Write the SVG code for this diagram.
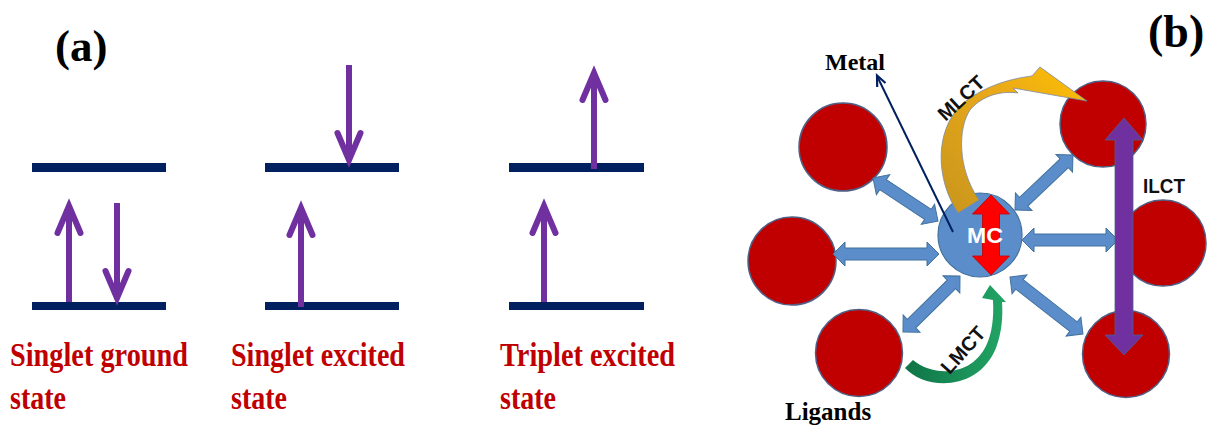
<svg xmlns="http://www.w3.org/2000/svg" width="1208" height="425" viewBox="0 0 1208 425">
<style>
.lvl{fill:#002060}
.spin{stroke:#7030A0;stroke-width:6;fill:none}
.head{stroke:#7030A0;stroke-width:6;fill:none;stroke-linecap:round;stroke-linejoin:miter;stroke-miterlimit:10}
.lab{font-family:"Liberation Serif","Times New Roman",serif;font-weight:bold;font-size:34px;fill:#C00000}
.ttl{font-family:"Liberation Serif","Times New Roman",serif;font-weight:bold;fill:#000}
.lig{fill:#C00000;stroke:#4F5F85;stroke-width:1.5}
.blk{fill:#5B8DCB;stroke:#41719C;stroke-width:1}
.sans{font-family:"Liberation Sans",Arial,sans-serif;font-weight:bold;font-size:20px;fill:#111}
</style>
<defs>
<linearGradient id="gold" x1="0" y1="1" x2="1" y2="0">
<stop offset="0" stop-color="#C8951C"/>
<stop offset="0.6" stop-color="#E9A91A"/>
<stop offset="1" stop-color="#FFC000"/>
</linearGradient>
<linearGradient id="green" x1="0" y1="0" x2="1" y2="0">
<stop offset="0" stop-color="#0F7447"/>
<stop offset="1" stop-color="#22A565"/>
</linearGradient>
</defs>
<rect width="1208" height="425" fill="#fff"/>

<!-- Panel (a) -->
<text class="ttl" x="55" y="61" font-size="45">(a)</text>

<g id="singlet-ground">
<rect class="lvl" x="32" y="163" width="134" height="9"/>
<rect class="lvl" x="32" y="302" width="134" height="8"/>
<line class="spin" x1="69" y1="205" x2="69" y2="302"/>
<polyline class="head" points="57.5,233 69,206 80.5,233"/>
<line class="spin" x1="117" y1="203" x2="117" y2="299"/>
<polyline class="head" points="105.5,271 117,298 128.5,271"/>
<text class="lab" x="10" y="366" textLength="178" lengthAdjust="spacingAndGlyphs">Singlet ground</text>
<text class="lab" x="10" y="409" textLength="56" lengthAdjust="spacingAndGlyphs">state</text>
</g>

<g id="singlet-excited">
<rect class="lvl" x="265" y="163" width="134" height="9"/>
<rect class="lvl" x="265" y="302" width="134" height="8"/>
<line class="spin" x1="349" y1="65" x2="349" y2="161"/>
<polyline class="head" points="337.5,133 349,160 360.5,133"/>
<line class="spin" x1="301" y1="207" x2="301" y2="307"/>
<polyline class="head" points="289.5,235 301,208 312.5,235"/>
<text class="lab" x="231" y="366" textLength="174" lengthAdjust="spacingAndGlyphs">Singlet excited</text>
<text class="lab" x="231" y="409" textLength="56" lengthAdjust="spacingAndGlyphs">state</text>
</g>

<g id="triplet-excited">
<rect class="lvl" x="509" y="163" width="135" height="9"/>
<rect class="lvl" x="509" y="302" width="135" height="8"/>
<line class="spin" x1="594" y1="72" x2="594" y2="169"/>
<polyline class="head" points="582.5,100 594,73 605.5,100"/>
<line class="spin" x1="544" y1="205" x2="544" y2="302"/>
<polyline class="head" points="532.5,233 544,206 555.5,233"/>
<text class="lab" x="500" y="366" textLength="175" lengthAdjust="spacingAndGlyphs">Triplet excited</text>
<text class="lab" x="500" y="409" textLength="56" lengthAdjust="spacingAndGlyphs">state</text>
</g>

<!-- Panel (b) -->
<text class="ttl" x="1148" y="47" font-size="46">(b)</text>

<g id="ligand-ul"><circle class="lig" cx="843" cy="147" r="44"/></g>
<g id="ligand-ur"><circle class="lig" cx="1103" cy="124" r="43"/></g>
<g id="ligand-l"><circle class="lig" cx="792" cy="261" r="44"/></g>
<g id="ligand-r"><circle class="lig" cx="1163" cy="243" r="43"/></g>
<g id="ligand-ll"><circle class="lig" cx="859" cy="353" r="43.5"/></g>
<g id="ligand-lr"><circle class="lig" cx="1126" cy="354" r="43.5"/></g>
<g id="metal-mc"><circle cx="980" cy="235" r="42" fill="#5B8DCB" stroke="#41719C" stroke-width="1.2"/></g>

<g id="connectors">
<polygon class="blk" transform="translate(873,178) rotate(33.5)" points="0,0 12,-12 12,-6 65.9,-6 65.9,-12 77.9,0 65.9,12 65.9,6 12,6 12,12"/>
<polygon class="blk" transform="translate(833,254)" points="0,0 12,-12 12,-6 94,-6 94,-12 106,0 94,12 94,6 12,6 12,12"/>
<polygon class="blk" transform="translate(903,332) rotate(-44.5)" points="0,0 12,-12 12,-6 67.9,-6 67.9,-12 79.9,0 67.9,12 67.9,6 12,6 12,12"/>
<polygon class="blk" transform="translate(1010,277) rotate(38)" points="0,0 12,-12 12,-6 80.6,-6 80.6,-12 92.6,0 80.6,12 80.6,6 12,6 12,12"/>
<polygon class="blk" transform="translate(1022,240)" points="0,0 12,-12 12,-6 84,-6 84,-12 96,0 84,12 84,6 12,6 12,12"/>
<polygon class="blk" transform="translate(1015,210) rotate(-43.5)" points="0,0 12,-12 12,-6 67.9,-6 67.9,-12 79.9,0 67.9,12 67.9,6 12,6 12,12"/>

<polygon fill="#FF0000" stroke="#C00000" stroke-width="0.8" points="991,195 1009.5,214 999.5,214 999.5,256 1009.5,256 991,275 972.5,256 982.5,256 982.5,214 972.5,214"/>

<path fill="url(#gold)" stroke="#7C8AA5" stroke-width="0.8" d="M958,213 C936,180 934,132 961,105 C982,87 1008,79 1032,76 L1040,67 L1087,101 L1013,88 L1018,93 C996,90 979,99 970,110 C958,128 957,168 979,200 Z"/>

<path fill="url(#green)" d="M905,368 C925,390 978,392 996,348 C1002,332 1003,316 1002,302 L1006,302 L990,285 L982,298 L993,300 C994,318 992,334 986,346 C970,378 932,376 913,360 Z"/>

<polygon fill="#7030A0" stroke="#4F5F85" stroke-width="0.8" points="1124,118 1143,140 1133,140 1133,335 1143,335 1124,355 1105,335 1115,335 1115,140 1105,140"/>

<line x1="953" y1="232" x2="877.5" y2="77" stroke="#002060" stroke-width="2"/>
<polyline points="877.2,87 877,75.5 885.5,83" fill="none" stroke="#002060" stroke-width="2.2" stroke-linejoin="miter"/>
</g>

<text x="985" y="243" text-anchor="middle" font-family="Liberation Sans,Arial,sans-serif" font-weight="bold" font-size="22" fill="#fff" textLength="36" lengthAdjust="spacingAndGlyphs">MC</text>
<text class="sans" transform="translate(961,98) rotate(-43)" x="0" y="7" text-anchor="middle">MLCT</text>
<text class="sans" transform="translate(963,350) rotate(-48)" x="0" y="7" text-anchor="middle">LMCT</text>
<text class="sans" x="1143" y="193" textLength="42" lengthAdjust="spacingAndGlyphs">ILCT</text>
<text class="ttl" x="825" y="70" font-size="24">Metal</text>
<text class="ttl" x="785" y="420" font-size="25">Ligands</text>
</svg>
